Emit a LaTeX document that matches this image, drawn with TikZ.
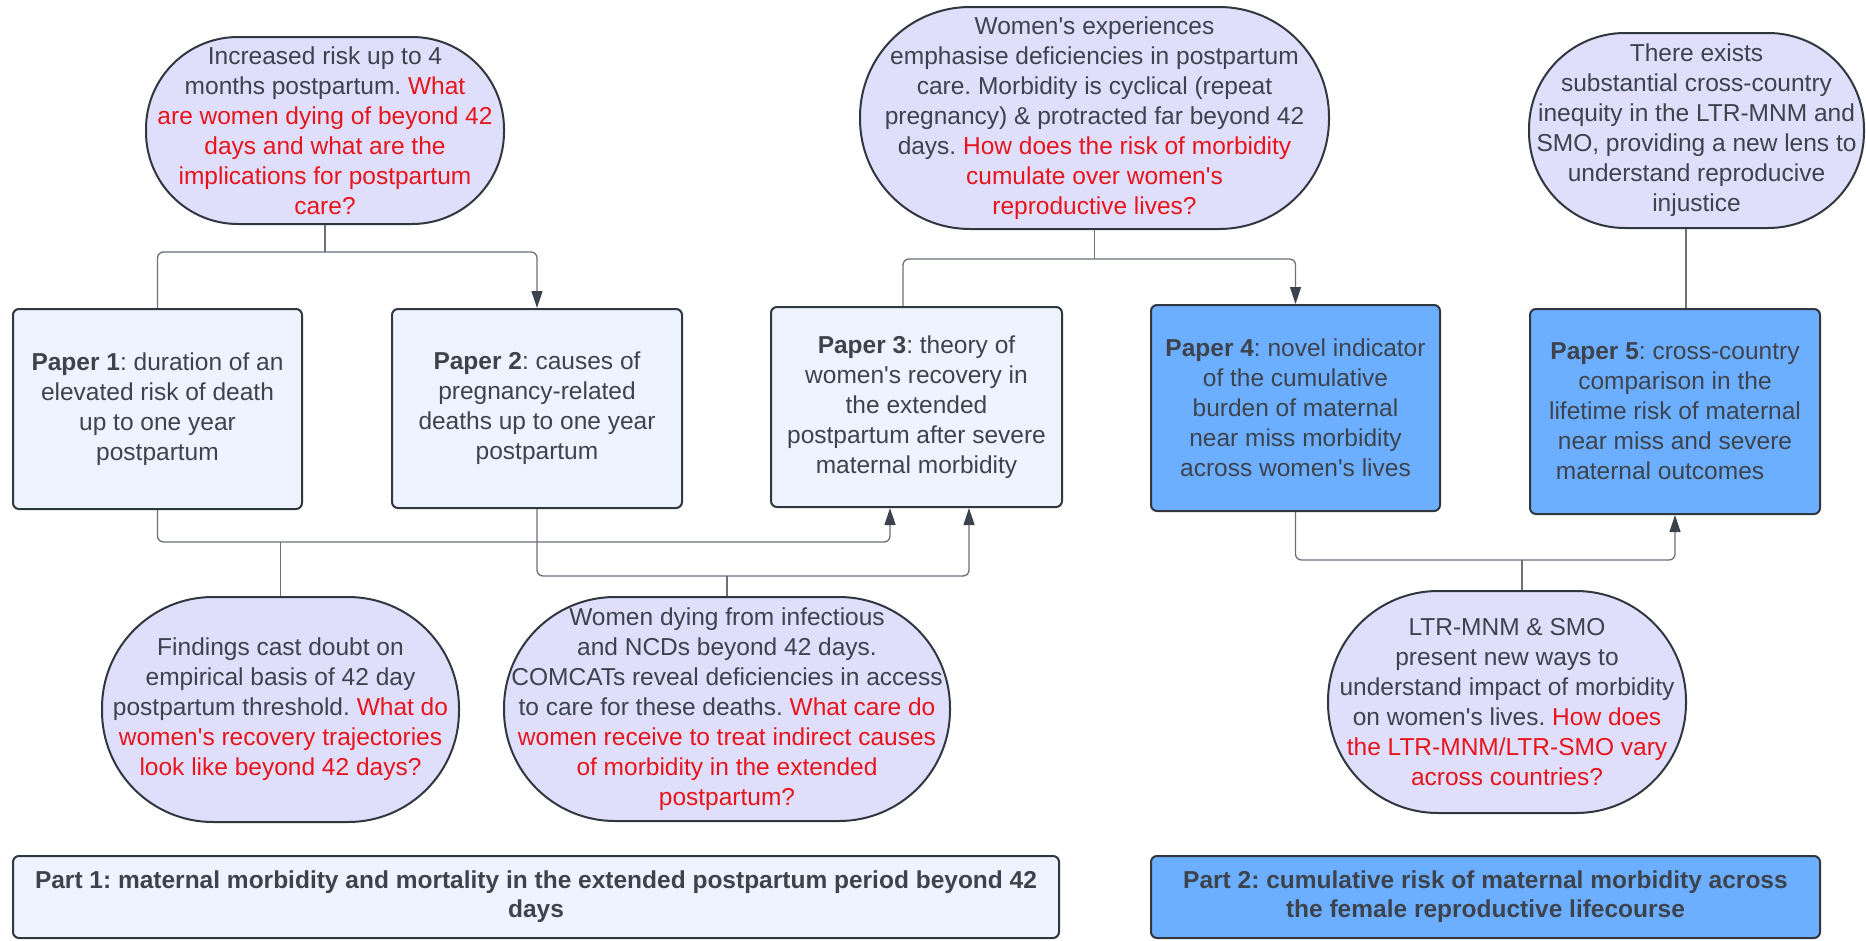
\documentclass[tikz,border=0pt]{standalone}
\usepackage{fontspec}
\setmainfont{Liberation Sans}[Ligatures=TeXOff]
\usetikzlibrary{arrows.meta}
\definecolor{boxlight}{HTML}{EDF4FF}
\definecolor{boxblue}{HTML}{6CAEFF}
\definecolor{bubblefill}{HTML}{DFDFFC}
\definecolor{edgecol}{HTML}{31373F}
\definecolor{txtcol}{HTML}{3C434D}
\definecolor{qred}{HTML}{E8141B}
\definecolor{conncol}{HTML}{6B7079}
\newcommand{\qr}[1]{\textcolor{qred}{#1}}
\frenchspacing
\tikzset{
  base/.style={inner sep=0pt, align=center, text=txtcol,
    font=\frenchspacing\fontsize{24.5}{30}\selectfont, draw=edgecol, line width=2pt},
  paperbox/.style={base, rounded corners=6pt, fill=boxlight},
  paperblue/.style={base, rounded corners=6pt, fill=boxblue},
  partbox/.style={paperbox, font=\frenchspacing\fontsize{24.5}{29}\selectfont\bfseries},
  partblue/.style={paperblue, font=\frenchspacing\fontsize{24.5}{29}\selectfont\bfseries},
  bubble/.style={base, fill=bubblefill},
  conn/.style={draw=conncol, line width=1.3pt, rounded corners=6pt},
  tip/.style={-{Triangle[length=17pt,width=11pt,fill=txtcol,color=txtcol]}}
}
\begin{document}
\begin{tikzpicture}[x=1pt,y=-1pt]
\useasboundingbox (0,0) rectangle (1866,940);
\fill[white] (0,0) rectangle (1866,940);

% Paper boxes
\node[paperbox, minimum width=289pt, minimum height=200pt] (P1) at (157.5,409)
  {\textbf{Paper 1}: duration of an\\elevated risk of death\\up to one year\\postpartum};
\node[paperbox, minimum width=290pt, minimum height=199pt] (P2) at (537,408.5)
  {\textbf{Paper 2}: causes of\\pregnancy-related\\deaths up to one year\\postpartum};
\node[paperbox, minimum width=291pt, minimum height=200pt] (P3) at (916.5,407)
  {\textbf{Paper 3}: theory of\\women's recovery in\\the extended\\postpartum after severe\\maternal morbidity};
\node[paperblue, minimum width=289pt, minimum height=206pt] (P4) at (1295.5,408)
  {\textbf{Paper 4}: novel indicator\\of the cumulative\\burden of maternal\\near miss morbidity\\across women's lives};
\node[paperblue, minimum width=290pt, minimum height=205pt] (P5) at (1675,411.5)
  {\textbf{Paper 5}: cross-country\\comparison in the\\lifetime risk of maternal\\near miss and severe\\maternal outcomes\hspace*{30pt}};

% Part boxes
\node[partbox, minimum width=1046pt, minimum height=82pt] (Part1) at (536,897)
  {Part 1: maternal morbidity and mortality in the extended postpartum period beyond 42\\days};
\node[partblue, minimum width=669pt, minimum height=82pt] (Part2) at (1485.5,897)
  {Part 2: cumulative risk of maternal morbidity across\\the female reproductive lifecourse};

% Bubbles
\node[bubble, rounded corners=92pt, minimum width=358pt, minimum height=187pt] (A) at (325,130.5)
  {Increased risk up to 4\\months postpartum. \qr{What}\\\qr{are women dying of beyond 42}\\\qr{days and what are the}\\\qr{implications for postpartum}\\\qr{care?}};
\node[bubble, rounded corners=110pt, minimum width=469pt, minimum height=222pt] (B) at (1094.5,118)
  {Women's experiences\\emphasise deficiencies in postpartum\\care. Morbidity is cyclical (repeat\\pregnancy) \& protracted far beyond 42\\days. \qr{How does the risk of morbidity}\\\qr{cumulate over women's}\\\qr{reproductive lives?}};
\node[bubble, rounded corners=96pt, minimum width=335pt, minimum height=195pt] (C) at (1696.5,130.5)
  {There exists\\substantial cross-country\\inequity in the LTR-MNM and\\SMO, providing a new lens to\\understand reproducive\\injustice};
\node[bubble, rounded corners=111pt, minimum width=357pt, minimum height=225pt] (F) at (280.5,709.5)
  {Findings cast doubt on\\empirical basis of 42 day\\postpartum threshold. \qr{What do}\\\qr{women's recovery trajectories}\\\qr{look like beyond 42 days?}};
\node[bubble, rounded corners=111pt, minimum width=446pt, minimum height=224pt] (W) at (727,709)
  {Women dying from infectious\\and NCDs beyond 42 days.\\COMCATs reveal deficiencies in access\\to care for these deaths. \qr{What care do}\\\qr{women receive to treat indirect causes}\\\qr{of morbidity in the extended}\\\qr{postpartum?}};
\node[bubble, rounded corners=110pt, minimum width=358pt, minimum height=222pt] (D) at (1507,702)
  {LTR-MNM \& SMO\\present new ways to\\understand impact of morbidity\\on women's lives. \qr{How does}\\\qr{the LTR-MNM/LTR-SMO vary}\\\qr{across countries?}};

% junction coordinates
\coordinate (jA) at (325,252);
\coordinate (jB) at (1094.5,259);
\coordinate (j1) at (281,542);
\coordinate (j2) at (727,576);
\coordinate (j3) at (1522,560);

% connectors
\draw[conn] (A.south) -- (jA);
\draw[conn] (jA) -| (P1.north);
\draw[conn,tip] (jA) -| (P2.north);

\draw[conn] (B.south) -- (jB);
\draw[conn] (jB) -| ([xshift=-13.5pt]P3.north);
\draw[conn,tip] (jB) -| (P4.north);

\draw[conn,tip] (P1.south) |- ([xshift=-26.5pt]P3.south |- j1) -- ([xshift=-26.5pt]P3.south);
\draw[conn] (F.north) -- (F.north |- j1);

\draw[conn,tip] (P2.south) |- ([xshift=52.5pt]P3.south |- j2) -- ([xshift=52.5pt]P3.south);
\draw[conn] (W.north) -- (W.north |- j2);

\draw[conn,tip] (P4.south) |- (P5.south |- j3) -- (P5.south);
\draw[conn] ([xshift=15pt]D.north) -- ([xshift=15pt]D.north |- j3);

\draw[conn] ([xshift=-10.5pt]C.south) -- ([xshift=-10.5pt]C.south |- P5.north);
\end{tikzpicture}
\end{document}
